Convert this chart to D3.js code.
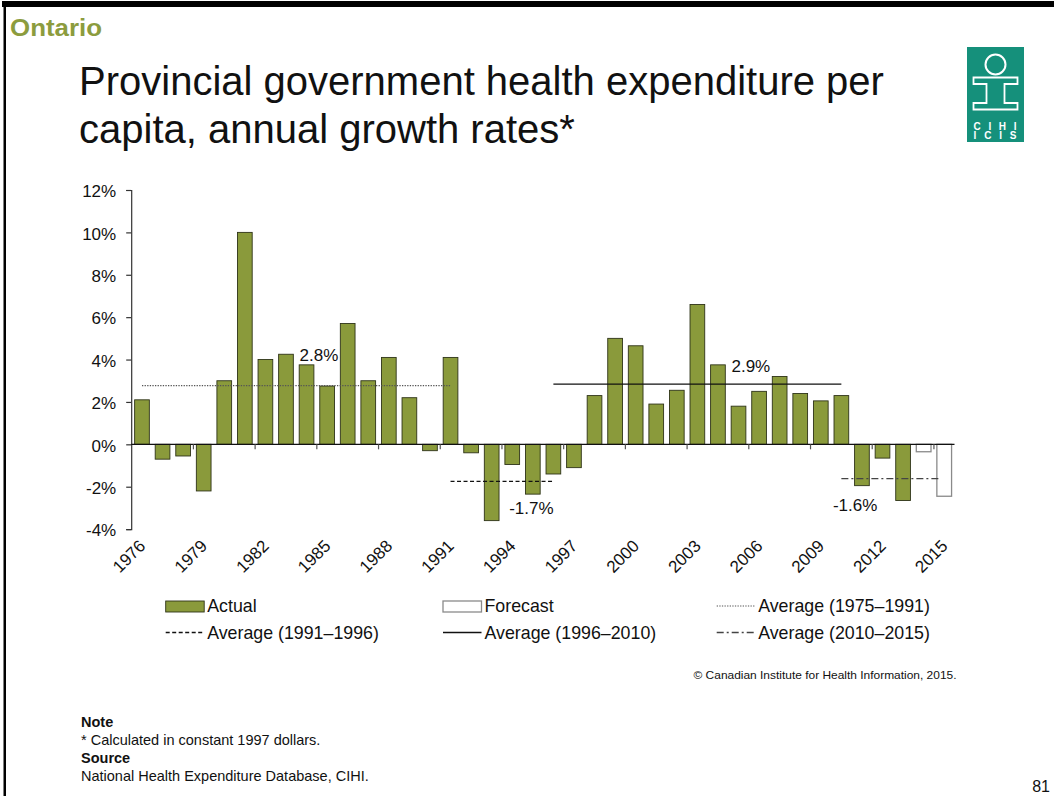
<!DOCTYPE html>
<html><head><meta charset="utf-8">
<script src="https://cdn.jsdelivr.net/npm/d3@7/dist/d3.min.js"></script>
<style>
body{margin:0;background:#fff;overflow:hidden}
svg{display:block}
text{font-family:"Liberation Sans",Arial,Helvetica,sans-serif}
</style>
</head><body>
<svg id="c" width="1054" height="796"></svg>
<script>
// ---------- data ----------
const years = [1976,1977,1978,1979,1980,1981,1982,1983,1984,1985,1986,1987,1988,1989,1990,
  1991,1992,1993,1994,1995,1996,1997,1998,1999,2000,2001,2002,2003,2004,2005,2006,2007,2008,
  2009,2010,2011,2012,2013,2014,2015];
const actualYears = years.slice(0, 38);
const actualValues = [2.1,-0.7,-0.55,-2.2,3.0,10.0,4.0,4.25,3.75,2.75,5.7,3.0,4.1,2.2,-0.3,
  4.1,-0.4,-3.6,-0.95,-2.35,-1.4,-1.1,2.3,5.0,4.65,1.9,2.55,6.6,3.75,1.8,2.5,3.2,2.4,
  2.05,2.3,-1.95,-0.65,-2.65];
const forecastYears = [2014, 2015];
const forecastValues = [-0.35, -2.45];
const yTicks = [-4,-2,0,2,4,6,8,10,12];
const xTickLabels = ["1976","1979","1982","1985","1988","1991","1994","1997","2000","2003","2006","2009","2012","2015"];
const avgNames = ["Average (1975\u20131991)","Average (1991\u20131996)","Average (1996\u20132010)","Average (2010\u20132015)"];
const avgFrom = [1976,1991,1996,2010];
const avgTo = [1991,1996,2010,2015];
const avgValues = [2.77,-1.75,2.84,-1.62];
const avgLabels = ["2.8%","-1.7%","2.9%","-1.6%"];

// ---------- layout / style ----------
const OLIVE = "#8a9a3b";
const svg = d3.select("#c");
const x = d3.scaleBand().domain(years).range([131.7, 954.5]).paddingInner(0.285).paddingOuter(0.1425);
const y = d3.scaleLinear().domain([-4, 12]).range([529.1, 190]);
const step = x.step(), bw = x.bandwidth();
const cx = yr => x(yr) + bw / 2;

// frame
svg.append("rect").attr("x",0).attr("y",0).attr("width",1054).attr("height",796).attr("fill","#fff");
svg.append("rect").attr("x",2).attr("y",1).attr("width",1052).attr("height",6).attr("fill","#000");
svg.append("rect").attr("x",3.5).attr("y",1).attr("width",2.5).attr("height",795).attr("fill","#000");

// header
svg.append("text").attr("x",10).attr("y",36).attr("font-size",23).attr("font-weight","bold")
  .attr("fill","#8c9c3e").attr("textLength",92).attr("lengthAdjust","spacingAndGlyphs").text("Ontario");
const title = svg.append("text").attr("x",79).attr("font-size",40).attr("fill","#111");
title.append("tspan").attr("x",79).attr("y",94.5).text("Provincial government health expenditure per");
title.append("tspan").attr("x",79).attr("y",143).text("capita, annual growth rates*");

// logo
const logo = svg.append("g");
logo.append("rect").attr("x",967).attr("y",47).attr("width",57).attr("height",95).attr("fill","#15907b");
logo.append("circle").attr("cx",995.5).attr("cy",64.5).attr("r",10).attr("fill","none").attr("stroke","#fff").attr("stroke-width",2);
logo.append("path").attr("d","M973.5,77.5H1017.5V84H1004.5V103H1017.5V109.5H973.5V103H986.5V84H973.5Z")
  .attr("fill","none").attr("stroke","#fff").attr("stroke-width",1.8);
logo.append("text").attr("x",973.5).attr("y",130).attr("font-size",10)
  .attr("font-weight","bold").attr("fill","#fff").attr("textLength",43).attr("lengthAdjust","spacing").text("CIHI");
logo.append("text").attr("x",973.5).attr("y",139).attr("font-size",10)
  .attr("font-weight","bold").attr("fill","#fff").attr("textLength",43).attr("lengthAdjust","spacing").text("ICIS");

// bars
svg.append("g").selectAll("rect").data(actualValues).join("rect")
  .attr("x",(d,i)=>x(actualYears[i])).attr("width",bw)
  .attr("y",d=>y(Math.max(0,d))).attr("height",d=>Math.abs(y(d)-y(0)))
  .attr("fill",OLIVE).attr("stroke","#2e3318").attr("stroke-width",0.9);
svg.append("g").selectAll("rect").data(forecastValues).join("rect")
  .attr("x",(d,i)=>x(forecastYears[i])).attr("width",bw)
  .attr("y",d=>y(Math.max(0,d))).attr("height",d=>Math.abs(y(d)-y(0)))
  .attr("fill","#fff").attr("stroke","#8a8a8a").attr("stroke-width",1.3);

// y axis
const yAxis = svg.append("g").attr("transform","translate(131.2,0)")
  .call(d3.axisLeft(y).tickValues(yTicks).tickSize(5).tickPadding(10).tickFormat(d=>d+"%"));
yAxis.select(".domain").attr("stroke","#333").attr("stroke-width",1.2);
yAxis.selectAll(".tick line").attr("stroke","#333").attr("stroke-width",1.2);
yAxis.selectAll(".tick text").attr("font-size",17).attr("fill","#111")
  .attr("font-family",'"Liberation Sans",Arial,sans-serif').attr("dy","0.4em");

// zero line & x ticks
svg.append("line").attr("x1",131.2).attr("x2",954.5).attr("y1",y(0)).attr("y2",y(0))
  .attr("stroke","#111").attr("stroke-width",1.2);
svg.append("g").selectAll("line").data(xTickLabels.slice(1)).join("line")
  .attr("x1",d=>x(+d)-step*0.1425).attr("x2",d=>x(+d)-step*0.1425)
  .attr("y1",y(0)).attr("y2",y(0)+5).attr("stroke","#555").attr("stroke-width",1.2);
svg.append("g").selectAll("text").data(xTickLabels).join("text")
  .attr("transform",d=>`translate(${cx(+d)+4.5},547) rotate(-45)`)
  .attr("text-anchor","end").attr("font-size",17).attr("fill","#111").text(d=>d);

// averages
const avgStyle = [
  {dash:"1.3,1.3", color:"#555", w:1.1},
  {dash:"4,2.5", color:"#111", w:1.3},
  {dash:null, color:"#111", w:1.4},
  {dash:"7,3,2,3", color:"#444", w:1.3}
];
svg.append("g").selectAll("line").data(avgValues).join("line")
  .attr("x1",(d,i)=>cx(avgFrom[i])).attr("x2",(d,i)=>cx(avgTo[i]) - (i===3?3:0))
  .attr("y1",d=>y(d)).attr("y2",d=>y(d))
  .attr("stroke",(d,i)=>avgStyle[i].color).attr("stroke-width",(d,i)=>avgStyle[i].w)
  .attr("stroke-dasharray",(d,i)=>avgStyle[i].dash);
const labelPos = [ {ci:9.1, dy:-24.6}, {ci:19.43, dy:33}, {ci:30.1, dy:-12}, {ci:35.17, dy:32.3} ];
svg.append("g").selectAll("text").data(avgLabels).join("text")
  .attr("x",(d,i)=>131.7 + labelPos[i].ci*step).attr("y",(d,i)=>y(avgValues[i])+labelPos[i].dy)
  .attr("text-anchor","middle").attr("font-size",17).attr("fill","#111").text(d=>d);

// legend
const colX = [165.7, 443, 716.7], rowY = [612, 638.5];
const lg = svg.append("g");
function swatch(c, r, fill, stroke, sw){
  lg.append("rect").attr("x",colX[c]).attr("y",rowY[r]-11).attr("width",38.5).attr("height",11)
    .attr("fill",fill).attr("stroke",stroke).attr("stroke-width",sw);
}
function lineSample(c, r, st){
  lg.append("line").attr("x1",colX[c]).attr("x2",colX[c]+38.5).attr("y1",rowY[r]-6).attr("y2",rowY[r]-6)
    .attr("stroke",st.color).attr("stroke-width",st.w).attr("stroke-dasharray",st.dash);
}
function label(c, r, t){
  lg.append("text").attr("x",colX[c]+41.5).attr("y",rowY[r]).attr("font-size",17.8).attr("fill","#111").text(t);
}
swatch(0,0,OLIVE,"#2e3318",0.9); label(0,0,"Actual");
swatch(1,0,"#fff","#8a8a8a",1.3); label(1,0,"Forecast");
lineSample(2,0,avgStyle[0]); label(2,0,avgNames[0]);
lineSample(0,1,avgStyle[1]); label(0,1,avgNames[1]);
lineSample(1,1,avgStyle[2]); label(1,1,avgNames[2]);
lineSample(2,1,avgStyle[3]); label(2,1,avgNames[3]);

// footer
svg.append("text").attr("x",693.5).attr("y",678.5).attr("font-size",11).attr("fill","#111")
  .attr("textLength",263).attr("lengthAdjust","spacingAndGlyphs").text("\u00A9 Canadian Institute for Health Information, 2015.");
const foot = [["Note",727,true],["* Calculated in constant 1997 dollars.",745.3,false],["Source",763,true],["National Health Expenditure Database, CIHI.",781.3,false]];
foot.forEach(f=>{
  svg.append("text").attr("x",81).attr("y",f[1]).attr("font-size",14.5).attr("font-weight",f[2]?"bold":"normal")
    .attr("fill","#111").text(f[0]);
});
svg.append("text").attr("x",1050).attr("y",792).attr("text-anchor","end").attr("font-size",16).attr("fill","#111").text("81");
</script>
</body></html>
